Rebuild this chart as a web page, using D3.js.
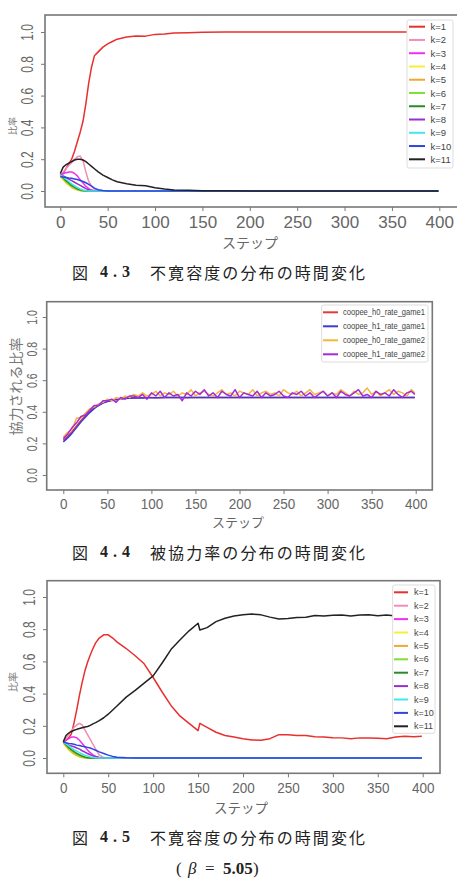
<!DOCTYPE html>
<html>
<head>
<meta charset="utf-8">
<script src="https://cdn.jsdelivr.net/npm/d3@7"></script>
<style>
body { margin: 0; background: #fff; }
svg { display: block; }
.jp { font-family: "Noto Sans CJK JP", sans-serif; }
.num { font-family: "Liberation Sans", Arial, sans-serif; }
.serif { font-family: "Liberation Serif", serif; }
</style>
</head>
<body>
<svg id="fig" width="457" height="891"></svg>
<script>
// ---- shared ----
var xTicks = [0, 50, 100, 150, 200, 250, 300, 350, 400];
var yTicks = [0, 0.2, 0.4, 0.6, 0.8, 1.0];
var kLabels = ["k=1", "k=2", "k=3", "k=4", "k=5", "k=6", "k=7", "k=8", "k=9", "k=10", "k=11"];
var kColors = ["#e8302e", "#f38db5", "#f02ff0", "#f5ef3a", "#f0a832", "#7ee03a", "#2a8a2a", "#9a2fd0", "#3fe8ee", "#2f44e0", "#222222"];
var coopLabels = ["coopee_h0_rate_game1", "coopee_h1_rate_game1", "coopee_h0_rate_game2", "coopee_h1_rate_game2"];
var coopColors = ["#e63a3a", "#3b3bd8", "#f5b43c", "#a62ad6"];

// ---- fig 4.3 (steps / ratio per k) ----
var steps43 = [0,3,6,9,12,15,18,21,24,27,30,33,36, 40,45,50,55,60, 70,80,90,100,110,120, 135,150,175,200, 250,300,350,399];
var k1_43  = [0.10,0.11,0.14,0.17,0.20,0.25,0.31,0.37,0.44,0.55,0.68,0.78,0.85, 0.875,0.905,0.925,0.94,0.955, 0.968,0.975,0.974,0.985,0.988,0.994, 0.996,0.999,1,1, 1,1,1,1];
var k2_43  = [0.10,0.12,0.14,0.16,0.18,0.20,0.215,0.22,0.19,0.12,0.06,0.03,0.012, 0.004,0,0,0,0, 0,0,0,0,0,0, 0,0,0,0, 0,0,0,0];
var k3_43  = [0.10,0.11,0.115,0.12,0.12,0.11,0.095,0.07,0.05,0.03,0.015,0.006,0.002, 0,0,0,0,0, 0,0,0,0,0,0, 0,0,0,0, 0,0,0,0];
var k4_43  = [0.09,0.07,0.05,0.035,0.022,0.012,0.006,0.002,0,0,0,0,0, 0,0,0,0,0, 0,0,0,0,0,0, 0,0,0,0, 0,0,0,0];
var k5_43  = [0.10,0.075,0.055,0.04,0.025,0.015,0.008,0.003,0,0,0,0,0, 0,0,0,0,0, 0,0,0,0,0,0, 0,0,0,0, 0,0,0,0];
var k6_43  = [0.10,0.08,0.06,0.045,0.03,0.02,0.01,0.005,0.002,0,0,0,0, 0,0,0,0,0, 0,0,0,0,0,0, 0,0,0,0, 0,0,0,0];
var k7_43  = [0.10,0.085,0.065,0.05,0.035,0.024,0.014,0.007,0.003,0,0,0,0, 0,0,0,0,0, 0,0,0,0,0,0, 0,0,0,0, 0,0,0,0];
var k8_43  = [0.10,0.095,0.085,0.075,0.065,0.055,0.045,0.035,0.025,0.015,0.008,0.003,0, 0,0,0,0,0, 0,0,0,0,0,0, 0,0,0,0, 0,0,0,0];
var k9_43  = [0.10,0.09,0.075,0.06,0.045,0.033,0.022,0.013,0.006,0.002,0,0,0, 0,0,0,0,0, 0,0,0,0,0,0, 0,0,0,0, 0,0,0,0];
var k10_43 = [0.09,0.088,0.085,0.082,0.08,0.076,0.072,0.066,0.06,0.052,0.042,0.03,0.018, 0.008,0.003,0,0,0, 0,0,0,0,0,0, 0,0,0,0, 0,0,0,0];
var k11_43 = [0.11,0.15,0.165,0.175,0.185,0.195,0.2,0.2,0.195,0.185,0.17,0.155,0.14, 0.12,0.1,0.085,0.07,0.058, 0.046,0.036,0.033,0.02,0.012,0.006, 0.004,0.002,0.001,0, 0,0,0,0];

// ---- fig 4.4 (coopee rates, every 5 steps + last step) ----
var steps44 = d3.range(0, 400, 5).concat([399]);
var h0g1 = [0.22,0.245,0.275,0.31,0.345,0.375,0.40,0.425,0.443,0.457,0.467,0.474,0.479,0.482,0.485,0.487,
  0.488,0.489,0.489,0.49,0.49,0.489,0.49,0.49,0.49,0.49, 0.49,0.49,0.489,0.49,0.49,0.49,0.49,0.49,0.49,0.49,
  0.49,0.49,0.49,0.49,0.49,0.49,0.49,0.49,0.49,0.49, 0.49,0.49,0.49,0.49,0.49,0.49,0.49,0.49,0.49,0.49,
  0.49,0.49,0.49,0.49,0.49,0.49,0.49,0.49,0.49,0.49, 0.49,0.49,0.49,0.49,0.49,0.49,0.49,0.49,0.49,0.49,
  0.49,0.49,0.49,0.49,0.49];
var h1g1 = [0.21,0.235,0.265,0.30,0.335,0.365,0.395,0.42,0.44,0.455,0.465,0.472,0.477,0.481,0.484,0.486,
  0.487,0.488,0.488,0.489,0.489,0.489,0.489,0.49,0.49,0.49, 0.49,0.49,0.49,0.49,0.49,0.49,0.49,0.49,0.49,0.49,
  0.49,0.49,0.49,0.49,0.49,0.49,0.49,0.49,0.49,0.49, 0.49,0.49,0.49,0.49,0.49,0.49,0.49,0.49,0.49,0.49,
  0.49,0.49,0.49,0.49,0.49,0.49,0.49,0.49,0.49,0.49, 0.49,0.49,0.49,0.49,0.49,0.49,0.49,0.49,0.49,0.49,
  0.49,0.49,0.49,0.49,0.49];
var h0g2 = [0.24,0.27,0.29,0.36,0.36,0.39,0.42,0.43,0.45,0.46,0.48,0.47,0.49,0.48,0.50,0.49,
  0.51,0.50,0.52,0.50,0.51,0.53,0.50,0.52,0.51,0.53,
  0.50,0.52,0.51,0.54,0.50,0.52,0.53,0.51,0.50,0.52,
  0.54,0.51,0.52,0.50,0.53,0.52,0.51,0.54,0.50,0.52,
  0.53,0.51,0.52,0.50,0.54,0.52,0.51,0.53,0.50,0.52,
  0.54,0.51,0.52,0.53,0.50,0.52,0.51,0.54,0.52,0.50,
  0.53,0.51,0.52,0.55,0.51,0.53,0.50,0.52,0.54,0.51,
  0.53,0.52,0.50,0.54,0.52];
var h1g2 = [0.23,0.26,0.30,0.33,0.37,0.38,0.41,0.44,0.44,0.47,0.47,0.48,0.46,0.49,0.48,0.50,
  0.50,0.49,0.51,0.48,0.52,0.50,0.53,0.49,0.52,0.50,
  0.51,0.47,0.52,0.50,0.53,0.51,0.54,0.50,0.52,0.49,
  0.53,0.51,0.50,0.54,0.49,0.52,0.51,0.50,0.53,0.49,
  0.52,0.50,0.51,0.53,0.50,0.49,0.52,0.51,0.53,0.50,
  0.52,0.49,0.51,0.53,0.50,0.52,0.49,0.53,0.51,0.50,
  0.52,0.54,0.50,0.51,0.49,0.53,0.51,0.52,0.50,0.54,
  0.51,0.49,0.52,0.53,0.51];

// ---- fig 4.5 (beta = 5.05) ----
var steps45 = [0,3,6,9,12,15,18,21,24,27,30,33,36, 40,45,50,55,60, 70,80,90,100,110,120,130,140,150, 152,
  160,170,180,190,200,210,220,230,240,250,260,270,280,290,300,310,320,330,340,350,360,370,380,390, 399];
var k1_45  = [0.10,0.11,0.125,0.15,0.22,0.30,0.39,0.47,0.54,0.595,0.64,0.68,0.715, 0.745,0.765,0.765,0.745,0.72,
  0.68,0.635,0.585,0.50,0.41,0.325,0.26,0.215,0.17, 0.215,
  0.19,0.16,0.14,0.13,0.12,0.112,0.11,0.12,0.145,0.145,0.14,0.14,0.132,0.13,0.126,0.125,0.12,0.125,0.124,0.122,0.12,0.13,0.135,0.132, 0.135];
var k2_45  = [0.10,0.12,0.145,0.17,0.19,0.205,0.215,0.205,0.175,0.145,0.115,0.085,0.055, 0.02,0.003,0,0,0,
  0,0,0,0,0,0,0,0,0, 0, 0,0,0,0,0,0,0,0,0,0,0,0,0,0,0,0,0,0,0,0,0,0,0,0, 0];
var k3_45  = [0.10,0.11,0.12,0.13,0.13,0.125,0.11,0.09,0.07,0.05,0.033,0.02,0.01, 0.003,0,0,0,0,
  0,0,0,0,0,0,0,0,0, 0, 0,0,0,0,0,0,0,0,0,0,0,0,0,0,0,0,0,0,0,0,0,0,0,0, 0];
var k4_45  = [0.09,0.07,0.05,0.035,0.022,0.013,0.006,0.002,0,0,0,0,0, 0,0,0,0,0,
  0,0,0,0,0,0,0,0,0, 0, 0,0,0,0,0,0,0,0,0,0,0,0,0,0,0,0,0,0,0,0,0,0,0,0, 0];
var k5_45  = [0.10,0.075,0.055,0.04,0.027,0.017,0.009,0.004,0.001,0,0,0,0, 0,0,0,0,0,
  0,0,0,0,0,0,0,0,0, 0, 0,0,0,0,0,0,0,0,0,0,0,0,0,0,0,0,0,0,0,0,0,0,0,0, 0];
var k6_45  = [0.10,0.08,0.062,0.047,0.034,0.023,0.014,0.008,0.003,0,0,0,0, 0,0,0,0,0,
  0,0,0,0,0,0,0,0,0, 0, 0,0,0,0,0,0,0,0,0,0,0,0,0,0,0,0,0,0,0,0,0,0,0,0, 0];
var k7_45  = [0.10,0.082,0.066,0.052,0.04,0.029,0.02,0.012,0.006,0.002,0,0,0, 0,0,0,0,0,
  0,0,0,0,0,0,0,0,0, 0, 0,0,0,0,0,0,0,0,0,0,0,0,0,0,0,0,0,0,0,0,0,0,0,0, 0];
var k8_45  = [0.10,0.09,0.08,0.075,0.07,0.062,0.055,0.045,0.037,0.028,0.02,0.013,0.008, 0.003,0,0,0,0,
  0,0,0,0,0,0,0,0,0, 0, 0,0,0,0,0,0,0,0,0,0,0,0,0,0,0,0,0,0,0,0,0,0,0,0, 0];
var k9_45  = [0.10,0.088,0.075,0.063,0.052,0.042,0.033,0.025,0.018,0.012,0.007,0.004,0.002, 0,0,0,0,0,
  0,0,0,0,0,0,0,0,0, 0, 0,0,0,0,0,0,0,0,0,0,0,0,0,0,0,0,0,0,0,0,0,0,0,0, 0];
var k10_45 = [0.10,0.095,0.09,0.088,0.085,0.08,0.077,0.073,0.07,0.066,0.062,0.055,0.048, 0.038,0.028,0.018,0.01,0.005,
  0.001,0,0,0,0,0,0,0,0, 0, 0,0,0,0,0,0,0,0,0,0,0,0,0,0,0,0,0,0,0,0,0,0,0,0, 0];
var k11_45 = [0.10,0.14,0.155,0.165,0.172,0.178,0.183,0.188,0.192,0.196,0.203,0.212,0.22, 0.232,0.25,0.272,0.298,0.325,
  0.378,0.42,0.465,0.51,0.59,0.675,0.735,0.79,0.837, 0.795,
  0.81,0.847,0.868,0.882,0.89,0.894,0.889,0.875,0.863,0.866,0.872,0.874,0.885,0.882,0.886,0.888,0.882,0.888,0.889,0.884,0.888,0.882,0.886,0.884, 0.886];

var svg = d3.select("#fig");

function drawPanel(p) {
    var x = d3.scaleLinear().domain([0, 400]).range(p.xr);
    var y = d3.scaleLinear().domain([0, 1]).range(p.yr);
    var g = svg.append("g");
    var line = d3.line().x(function (d) { return x(d[0]); }).y(function (d) { return y(d[1]); });

    p.series.forEach(function (s, i) {
        g.append("path")
            .datum(p.steps.map(function (t, j) { return [t, s[j]]; }))
            .attr("d", line)
            .attr("fill", "none")
            .attr("stroke", p.colors[i])
            .attr("stroke-width", 1.5)
            .attr("stroke-linejoin", "round");
    });

    // frame
    g.append("rect")
        .attr("x", p.box[0]).attr("y", p.box[1])
        .attr("width", p.box[2] - p.box[0]).attr("height", p.box[3] - p.box[1])
        .attr("fill", "none").attr("stroke", "#777").attr("stroke-width", 1.6);

    // x axis
    var xa = g.append("g")
        .attr("transform", "translate(0," + p.box[3] + ")")
        .call(d3.axisBottom(x).tickValues(xTicks).tickSize(4));
    xa.select(".domain").remove();
    xa.selectAll(".tick line").attr("stroke", "#777");
    xa.selectAll(".tick text")
        .attr("class", "num")
        .attr("y", null).attr("dy", null)
        .attr("fill", "#666")
        .attr("font-size", p.xFont)
        .attr("dominant-baseline", "central")
        .attr("transform", "translate(0," + (p.xLabelY - p.box[3]) + ") scale(1," + p.xScaleY + ")");

    // y axis
    var ya = g.append("g")
        .attr("transform", "translate(" + p.box[0] + ",0)")
        .call(d3.axisLeft(y).tickValues(yTicks).tickFormat(d3.format(".1f")).tickSize(4));
    ya.select(".domain").remove();
    ya.selectAll(".tick line").attr("stroke", "#777");
    ya.selectAll(".tick text")
        .attr("class", "num")
        .attr("x", null).attr("dy", null)
        .attr("fill", "#666")
        .attr("font-size", p.yFont)
        .attr("text-anchor", "middle")
        .attr("dominant-baseline", "central")
        .attr("transform", "translate(" + (p.yLabelX - p.box[0]) + ",0) scale(" + p.yScaleX + ",1) rotate(-90)");

    // axis titles
    g.append("text").attr("class", "jp")
        .attr("transform", "translate(" + p.xTitle[0] + "," + p.xTitle[1] + ")")
        .attr("text-anchor", "middle").attr("dominant-baseline", "central")
        .attr("font-size", p.xTitle[2]).attr("fill", "#666")
        .text("ステップ");
    g.append("text").attr("class", "jp")
        .attr("transform", "translate(" + p.yTitle[0] + "," + p.yTitle[1] + ") rotate(-90)")
        .attr("text-anchor", "middle").attr("dominant-baseline", "central")
        .attr("font-size", p.yTitle[2]).attr("fill", "#777")
        .text(p.yTitleText);

    // legend
    var L = p.legend;
    g.append("rect")
        .attr("x", L.x).attr("y", L.y).attr("width", L.w).attr("height", L.h)
        .attr("rx", 2).attr("fill", "#fff").attr("stroke", "#ddd").attr("stroke-width", 1);
    var rows = g.selectAll(".leg" + p.id).data(p.labels).enter().append("g")
        .attr("transform", function (d, i) { return "translate(0," + (L.row0 + i * L.dy) + ")"; });
    rows.append("line")
        .attr("x1", L.lx0).attr("x2", L.lx1)
        .attr("stroke", function (d, i) { return p.colors[i]; })
        .attr("stroke-width", 2);
    var t = rows.append("text").attr("class", "num")
        .attr("x", L.tx).attr("dominant-baseline", "central")
        .attr("font-size", L.font).attr("fill", "#444")
        .text(function (d) { return d; });
    if (L.tlen) t.attr("textLength", L.tlen).attr("lengthAdjust", "spacingAndGlyphs");
}

function caption(yc, num, body) {
    svg.append("text").attr("class", "jp").attr("x", 72).attr("y", yc)
        .attr("dominant-baseline", "central").attr("font-size", 16).attr("fill", "#222").text("図");
    svg.append("text").attr("class", "serif").attr("x", 100).attr("y", yc)
        .attr("dominant-baseline", "central").attr("font-size", 16).attr("font-weight", "bold")
        .attr("fill", "#222")
        .attr("textLength", 30).attr("lengthAdjust", "spacing").text(num);
    svg.append("text").attr("class", "jp").attr("x", 150).attr("y", yc)
        .attr("dominant-baseline", "central").attr("font-size", 16).attr("fill", "#222")
        .attr("textLength", 215).attr("lengthAdjust", "spacing").text(body);
}

drawPanel({
    id: "a", box: [45, 15, 458, 207], xr: [60.3, 439.3], yr: [191, 32],
    steps: steps43,
    series: [k1_43, k2_43, k3_43, k4_43, k5_43, k6_43, k7_43, k8_43, k9_43, k10_43, k11_43],
    colors: kColors, labels: kLabels,
    xFont: 17, xScaleY: 1, xLabelY: 222,
    yFont: 12, yScaleX: 1.35, yLabelX: 27.7,
    xTitle: [250, 241.5, 14], yTitle: [12, 126, 9], yTitleText: "比率",
    legend: {x: 407, y: 20, w: 46, h: 148, row0: 26.7, dy: 13.26, lx0: 409, lx1: 425, tx: 430.5, font: 9.5}
});
caption(271.7, "4.3", "不寛容度の分布の時間変化");

drawPanel({
    id: "b", box: [46.7, 301.7, 432.3, 490], xr: [63.3, 415.7], yr: [475, 317],
    steps: steps44,
    series: [h0g1, h1g1, h0g2, h1g2],
    colors: coopColors, labels: coopLabels,
    xFont: 13.5, xScaleY: 1.1, xLabelY: 503.8,
    yFont: 10.5, yScaleX: 1.45, yLabelX: 31.7,
    xTitle: [238, 521.5, 13], yTitle: [15, 386.5, 14], yTitleText: "協力される比率",
    legend: {x: 321.7, y: 305, w: 106.3, h: 57, row0: 312.3, dy: 14, lx0: 323, lx1: 338, tx: 343, font: 9, tlen: 82}
});
caption(551.7, "4.4", "被協力率の分布の時間変化");

drawPanel({
    id: "c", box: [47, 580.7, 440, 773.3], xr: [63.3, 422.7], yr: [758, 597],
    steps: steps45,
    series: [k1_45, k2_45, k3_45, k4_45, k5_45, k6_45, k7_45, k8_45, k9_45, k10_45, k11_45],
    colors: kColors, labels: kLabels,
    xFont: 13.5, xScaleY: 1.12, xLabelY: 787.8,
    yFont: 12, yScaleX: 1.35, yLabelX: 29.3,
    xTitle: [241, 806.5, 13.5], yTitle: [12.5, 682, 10], yTitleText: "比率",
    legend: {x: 392.7, y: 585, w: 42.3, h: 148.3, row0: 592.3, dy: 13.4, lx0: 394, lx1: 408, tx: 414, font: 9}
});
caption(836.7, "4.5", "不寛容度の分布の時間変化");

// (beta = 5.05), placed piece by piece
function piece(x, cls, txt, extra) {
    var t = svg.append("text").attr("class", cls).attr("x", x).attr("y", 868)
        .attr("dominant-baseline", "central").attr("font-size", 17).attr("fill", "#222").text(txt);
    if (extra) extra(t);
}
piece(176, "serif", "(");
piece(188, "serif", "β", function (t) { t.attr("font-style", "italic"); });
piece(205, "serif", "=");
piece(223, "serif", "5.05", function (t) { t.attr("font-weight", "bold"); });
piece(253, "serif", ")");
</script>
</body>
</html>
